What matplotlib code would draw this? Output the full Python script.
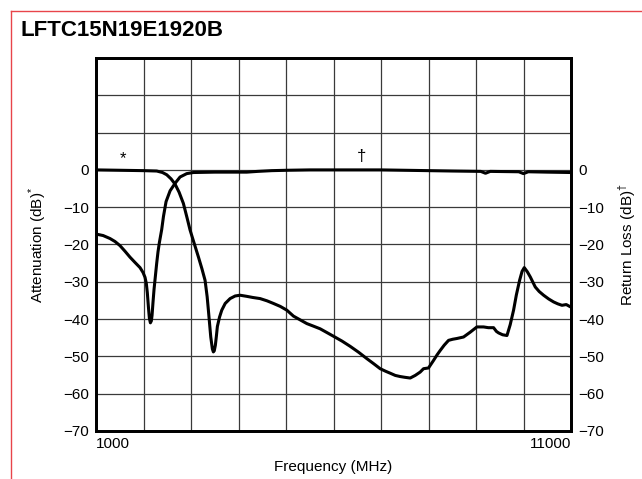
#!/usr/bin/env python3
import numpy as np
from matplotlib import pyplot as plt
from matplotlib.lines import Line2D

plt.rcParams['font.family'] = ['Liberation Sans', 'DejaVu Sans']
plt.rcParams['mathtext.fontset'] = 'custom'
plt.rcParams['mathtext.rm'] = 'Liberation Sans'
plt.rcParams['axes.unicode_minus'] = True

title = "LFTC15N19E1920B"

# Attenuation curve (starts around -17 dB, goes to 0 above ~3 GHz)
atten_freq = [1000, 1150, 1295, 1400, 1505, 1610, 1716, 1820, 1927, 1990, 2032, 2060,
              2081, 2105, 2124, 2145, 2165, 2180, 2200, 2222, 2250, 2278, 2305, 2334,
              2383, 2420, 2475, 2560, 2664, 2770, 2910, 3050, 3500, 4000, 4175, 4400,
              4700, 5017, 5500, 6000, 6500, 7000, 7500, 8000, 8500, 9100, 9200, 9300,
              9900, 10000, 10100, 10500, 11000]
atten_db = [-17.2, -17.6, -18.4, -19.2, -20.3, -21.8, -23.4, -24.8, -26.2, -27.5, -28.8, -30.5,
            -33.0, -37.0, -39.8, -41.0, -40.5, -39.0, -35.5, -32.0, -28.5, -25.0, -22.0, -19.5,
            -16.0, -12.5, -8.5, -5.6, -3.6, -1.9, -1.0, -0.7, -0.6, -0.6, -0.6, -0.4,
            -0.2, -0.1, 0.0, 0.0, 0.0, 0.0, -0.1, -0.2, -0.3, -0.4, -0.9, -0.4,
            -0.5, -1.0, -0.5, -0.6, -0.7]

# Return loss curve (starts at 0 dB, deep notches further up)
rl_freq = [1000, 1500, 2000, 2278, 2400, 2489, 2580, 2664, 2750, 2840, 2920, 2980,
           3050, 3155, 3230, 3296, 3340, 3366, 3416, 3450, 3471, 3490, 3513, 3535,
           3555, 3600, 3648, 3720, 3823, 3930, 4033, 4175, 4300, 4455, 4600, 4735,
           4880, 5017, 5157, 5297, 5438, 5580, 5719, 5860, 6000, 6180, 6351, 6530,
           6702, 6850, 6983, 7100, 7193, 7300, 7404, 7500, 7615, 7720, 7825, 7895,
           8000, 8105, 8180, 8247, 8330, 8422, 8510, 8598, 8738, 8879, 9019, 9159,
           9260, 9370, 9430, 9475, 9560, 9652, 9720, 9791, 9850, 9918, 9970, 10016,
           10080, 10143, 10248, 10330, 10423, 10530, 10634, 10720, 10810, 10900, 10985]
rl_db = [0.0, -0.1, -0.2, -0.3, -0.7, -1.3, -2.4, -3.8, -6.0, -9.0, -13.0, -16.1,
         -19.0, -23.3, -26.5, -29.6, -34.0, -37.6, -44.8, -48.0, -48.8, -48.5, -47.0, -44.5,
         -42.0, -39.5, -37.6, -35.8, -34.5, -33.8, -33.6, -33.9, -34.2, -34.5, -35.1, -35.8,
         -36.6, -37.6, -39.2, -40.2, -41.2, -41.9, -42.6, -43.6, -44.6, -45.9, -47.3, -48.9,
         -50.6, -52.0, -53.3, -54.0, -54.5, -55.1, -55.4, -55.6, -55.8, -55.1, -54.2, -53.3,
         -53.1, -51.1, -49.6, -48.4, -47.0, -45.7, -45.4, -45.2, -44.8, -43.5, -42.1, -42.1,
         -42.3, -42.3, -43.3, -43.7, -44.2, -44.4, -41.5, -37.6, -33.5, -29.6, -27.2, -26.2,
         -27.3, -28.7, -31.4, -32.6, -33.6, -34.6, -35.4, -35.9, -36.3, -36.1, -36.7]

x_ticks = np.arange(1000, 11001, 1000)
y_ticks = np.arange(-70, 1, 10)
grid_y = np.arange(-70, 31, 10)

fig = plt.figure(figsize=(6.42, 4.79), dpi=100)
ax = fig.add_axes([96 / 642, 1 - 431 / 479, 475 / 642, 373 / 479])

ax.set_xlim(1000, 11000)
ax.set_ylim(-70, 30)

# grid lines
for gx in x_ticks[1:-1]:
    ax.axvline(gx, color='#3a3a3a', lw=0.9, zorder=1)
for gy in grid_y[1:-1]:
    ax.axhline(gy, color='#3a3a3a', lw=0.9, zorder=1)

ax.plot(atten_freq, atten_db, color='black', lw=2.2, zorder=3, solid_capstyle='round')
ax.plot(rl_freq, rl_db, color='black', lw=2.2, zorder=3, solid_capstyle='round')

ax.text(1560, 1.0, '*', fontsize=12, ha='center', va='bottom')
ax.text(6580, 1.5, '\u2020', fontsize=12, ha='center', va='bottom')

for s in ax.spines.values():
    s.set_linewidth(2.0)

ax.set_yticks(y_ticks)
ax.set_yticklabels([str(v).replace('-', '\u2212') for v in y_ticks], fontsize=11)
ax.set_xticks([1000, 11000])
xl = ax.set_xticklabels(['1000', '11000'], fontsize=11)
xl[0].set_ha('left')
xl[1].set_ha('right')
ax.tick_params(axis='both', length=0, pad=5)
ax.tick_params(axis='x', pad=4)

ax2 = ax.twinx()
ax2.set_ylim(-70, 30)
ax2.set_yticks(y_ticks)
ax2.set_yticklabels([str(v).replace('-', '\u2212') for v in y_ticks], fontsize=11)
ax2.tick_params(axis='y', length=0, pad=5)
for s in ax2.spines.values():
    s.set_linewidth(2.0)

ax.set_xlabel('Frequency (MHz)', fontsize=11, labelpad=7)
ax.set_ylabel(r'Attenuation (dB)$^{*}$', fontsize=11, labelpad=10)
ax2.set_ylabel(r'Return Loss (dB)$^{\dagger}$', fontsize=11, labelpad=9)

fig.text(21 / 642, 1 - 31 / 479, title, fontsize=16, fontweight='bold', va='center', ha='left')

# red frame on top and left edges
fig.add_artist(Line2D([10.7 / 642, 10.7 / 642], [0, 1 - 11 / 479], transform=fig.transFigure,
                      color='#e8444a', lw=1.0))
fig.add_artist(Line2D([10.7 / 642, 1], [1 - 11 / 479, 1 - 11 / 479], transform=fig.transFigure,
                      color='#e8444a', lw=1.0))

fig.savefig('out.png', dpi=100)
